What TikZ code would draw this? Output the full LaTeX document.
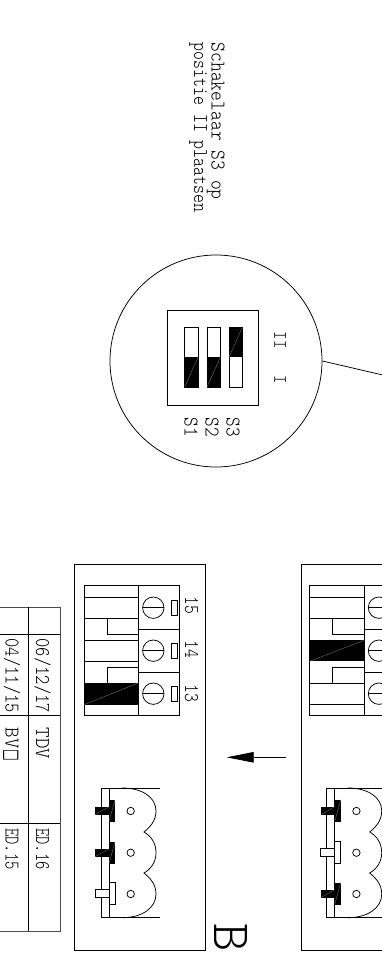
\documentclass[tikz,border=0pt]{standalone}
\usepackage{fontspec}
\usepackage{graphicx}
\usetikzlibrary{arrows.meta}
\newfontfamily\cadfont{Latin Modern Mono Light}
\newfontfamily\boxfont{DejaVu Sans}
\newcommand\cadsize[1]{\fontsize{#1}{#1}\selectfont}
\newcommand\tx[2]{\scalebox{#1}[1]{#2}}
\tikzset{
  ln/.style={draw=black,line width=0.75pt},
  thinline/.style={draw=black!70,line width=0.7pt},
  hatch/.style={draw=black!45,line width=0.25pt},
  lab/.style={rotate=-90,anchor=base west,inner sep=0pt,font=\cadfont\cadsize{21}},
  labc/.style={lab,anchor=base},
}
\newcommand\blackrect[4]{%
  \fill[black] (#1,#2) rectangle (#3,#4);
  \draw[hatch] (#1,#4) -- (#3,#2);}
% terminal contact rectangles, #1 = fill for contact, #2..#3 y range
\newcommand\contact[3]{%
  \ifx#1b\blackrect{84}{#2}{138.3}{#3}\else\draw[ln] (84,#2) rectangle (138.3,#3);\fi}
% side-view screw: #1 = b/w, #2 = y centre
\newcommand\sidescrew[2]{%
  \ifx#1b%
    \blackrect{109}{#2-11}{115}{#2+11}
    \blackrect{95}{#2-4}{109}{#2+4}
  \else
    \draw[ln,fill=white] (109,#2-11) rectangle (115,#2+11);
    \draw[ln,fill=white] (95,#2-4) rectangle (109,#2+4);
  \fi}
\newcommand\termscrew[1]{%
  \draw[ln] (153.3,#1) circle (10.7);
  \draw[ln] (142.6,#1) -- (164,#1);
  \draw[ln] (171.3,#1-7.5) rectangle (177.3,#1+7.5);}
% whole connector pair: #1 #2 #3 contact fills, #4 #5 #6 side screws
\newcommand\block[6]{%
  \draw[ln] (84,585.7) rectangle (179.3,715.3);
  \draw[ln] (138.3,585.7) -- (138.3,715.3);
  \draw[ln] (138.3,629.3) -- (179.3,629.3);
  \draw[ln] (138.3,672.3) -- (179.3,672.3);
  \contact{#1}{597.3}{618.3}
  \contact{#2}{640.3}{661.3}
  \contact{#3}{683}{704.7}
  \draw[ln] (107,618.3) -- (107,634) -- (138.3,634);
  \draw[ln] (107,683) -- (107,667.7) -- (138.3,667.7);
  \termscrew{607.7}\termscrew{650.7}\termscrew{693.7}
  \draw[ln] (160,788) -- (101,788) -- (101,917.7) -- (160,917.7);
  \draw[ln] (109,788) -- (109,917.7);
  \draw[ln] (122,788) .. controls (142,788) and (156,797) .. (156,811)
     .. controls (156,821) and (150,827) .. (144,832)
     .. controls (151,836) and (156,843) .. (156,852.7)
     .. controls (156,862) and (151,869) .. (144,873)
     .. controls (150,878) and (156,884) .. (156,894)
     .. controls (156,908) and (142,917.7) .. (122,917.7);
  \draw[ln] (130.7,811) circle (3.7);
  \draw[ln] (130.7,852.7) circle (3.7);
  \draw[ln] (130.7,894) circle (3.7);
  \sidescrew{#4}{810.7}
  \sidescrew{#5}{852.7}
  \sidescrew{#6}{893.7}}
\begin{document}
\begin{tikzpicture}[x=1pt,y=-1pt]
\useasboundingbox (0,0) rectangle (382,955);
\clip (0,0) rectangle (382,955);
\fill[white] (0,0) rectangle (382,955);
% instruction text
\node[lab] (line1) at (211.7,42.5) {\tx{.89}{Schakelaar S3 op}};
\node[lab] (line2) at (194,42.5) {\tx{.81}{positie II plaatsen}};
% lens
\node[circle,ln,minimum size=212pt,inner sep=0pt] (lens) at (216,361) {};
\coordinate (lensend) at (400,379);
\draw[ln] (lens.east) -- (lensend);
\draw[ln] (167.5,310.5) rectangle (258.3,405.7);
\foreach \x/\t in {184.7/1,207/2}{
  \draw[ln] (\x,327.3) rectangle (\x+13.3,387);
  \blackrect{\x}{357.3}{\x+13.3}{387}
}
\draw[ln] (229,327.3) rectangle (242.3,387);
\blackrect{229}{327.3}{242.3}{357.3}
\node[labc,font=\cadfont\cadsize{19}] (II) at (274.3,340) {\tx{.85}{II}};
\node[labc,font=\cadfont\cadsize{19}] (I) at (274.3,380) {\tx{.85}{I}};
\node[lab] (S1) at (184.5,417.5) {\tx{.87}{S1}};
\node[lab] (S2) at (205.7,417.5) {\tx{.87}{S2}};
\node[lab] (S3) at (226.7,417.5) {\tx{.87}{S3}};
% outer boxes
\draw[ln] (74.3,564.3) rectangle (205.7,950.7);
\draw[ln] (301,564.3) rectangle (500,950.7);
\block{w}{w}{b}{b}{b}{w}
\begin{scope}[shift={(225.7,0)}]
\block{w}{b}{w}{b}{w}{b}
\end{scope}
\node[labc] (l15) at (185,605.7) {\tx{.8}{15}};
\node[labc] (l14) at (185,649.7) {\tx{.8}{14}};
\node[labc] (l13) at (185,693.3) {\tx{.8}{13}};
% arrow
\coordinate (arrfrom) at (286,757.3);
\coordinate (arrto) at (226.7,757.3);
\draw[ln,-{Triangle[length=27pt,width=10.5pt]}] (arrfrom) -- (arrto);
% big letter
\node[lab,font=\cadfont\cadsize{54}] (bigB) at (214,923.5) {B};
% table
\draw[thinline] (-2,607.3) -- (60.3,607.3) -- (60.3,931.3) -- (-2,931.3);
\draw[ln] (28.3,607.3) -- (28.3,931.3);
\foreach \y in {634.3,715.3,823.7}{\draw[ln] (-2,\y) -- (60.3,\y);}
\node[lab] (d1) at (36,638.5) {\tx{.84}{06/12/17}};
\node[lab] (d2) at (5.7,638.5) {\tx{.84}{04/11/15}};
\node[lab] (t1) at (36,727.5) {\tx{.95}{TDV}};
\node[lab] (t2) at (5.7,727.5) {\tx{.95}{BV\hspace{1pt}\scalebox{.62}[.95]{\boxfont □}}};
\node[lab] (e1) at (36,828) {\tx{.75}{ED.16}};
\node[lab] (e2) at (5.7,828) {\tx{.75}{ED.15}};
\end{tikzpicture}
\end{document}
